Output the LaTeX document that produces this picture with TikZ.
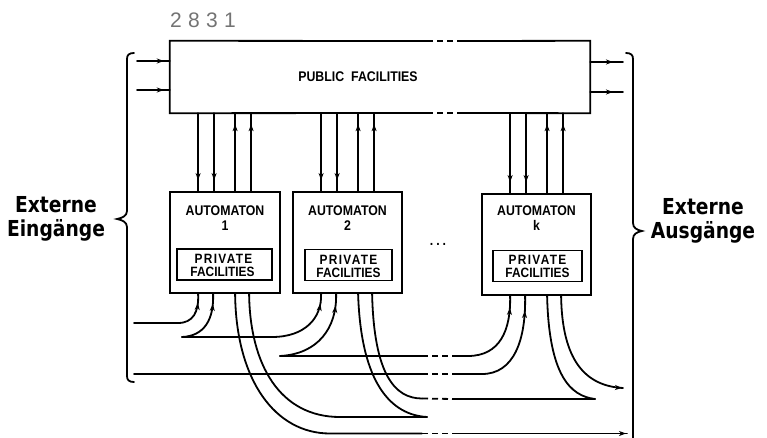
\documentclass[tikz,border=0pt]{standalone}
\usepackage{fontspec}
\setmainfont{Liberation Sans}
\newfontfamily\lblfont[FakeStretch=0.85]{DejaVu Sans}
\newfontfamily\numfont[LetterSpace=30]{Liberation Sans}
\newfontfamily\boxfont[FakeStretch=0.88]{Liberation Sans}
\newfontfamily\spfont[FakeStretch=0.88,LetterSpace=10]{Liberation Sans}
\usetikzlibrary{arrows.meta,decorations.markings,calc}
\definecolor{numgray}{gray}{0.45}
\tikzset{
  ln/.style={line width=1.8pt, line cap=round},
  tipat/.style={postaction={decorate},decoration={markings,mark=at position #1 with {\arrow{Stealth[length=7pt,width=5pt,inset=2pt]}}}},
  gapdash/.style={line width=1.8pt, dash pattern=on 6pt off 4pt},
  box/.style={draw, line width=1.8pt, inner sep=0pt},
  txt/.style={font=\boxfont\bfseries\fontsize{14}{14}\selectfont, inner sep=0pt, anchor=base},
  ptxt/.style={font=\boxfont\bfseries\fontsize{13.5}{13.5}\selectfont, inner sep=0pt, anchor=base},
  sptxt/.style={font=\spfont\bfseries\fontsize{13.5}{13.5}\selectfont, inner sep=0pt, anchor=base},
  lbl/.style={font=\lblfont\bfseries\fontsize{22}{24}\selectfont, align=center, inner sep=0pt},
}
\begin{document}
\begin{tikzpicture}[x=1pt,y=-1pt]
\useasboundingbox (0,0) rectangle (767,438);

% number
\node[font=\numfont\fontsize{21}{21}\selectfont, text=numgray, anchor=base west, inner sep=0pt] (num) at (170,28) {2831};

% public facilities
\node[minimum width=420pt, minimum height=72pt, inner sep=0pt] (pf) at (380,77) {};
\node[txt, anchor=center] (pft) at (358,77) {PUBLIC\hspace{0.5em}FACILITIES};
\draw[ln] (427,41) -- (pf.north west) -- (pf.south west) -- (427,113);
\draw[ln] (458,41) -- (pf.north east) -- (pf.south east) -- (458,113);
\draw[gapdash] (427,41) -- (458,41);
\draw[gapdash] (427,113) -- (458,113);

% automata
\node[box, minimum width=110pt, minimum height=101pt] (a1) at (225,242.5) {};
\node[box, minimum width=109pt, minimum height=101pt] (a2) at (347.5,242.5) {};
\node[box, minimum width=109pt, minimum height=101pt] (ak) at (536.5,244.5) {};
\node[box, minimum width=95pt, minimum height=31pt] (p1) at (224.5,264.5) {};
\node[box, minimum width=87pt, minimum height=31pt] (p2) at (348.5,265) {};
\node[box, minimum width=89pt, minimum height=31pt] (pk) at (537.5,266) {};

\node[txt] (t1a) at (225,215) {AUTOMATON};
\node[txt] (t1b) at (225,230) {1};
\node[txt] (t2a) at (347.5,215) {AUTOMATON};
\node[txt] (t2b) at (347.5,230) {2};
\node[txt] (tka) at (536.5,215.5) {AUTOMATON};
\node[txt] (tkb) at (536.5,230.5) {k};
\node[sptxt] (q1a) at (223.5,263.5) {PRIVATE};
\node[ptxt] (q1b) at (222.5,276.5) {FACILITIES};
\node[sptxt] (q2a) at (348.5,264) {PRIVATE};
\node[ptxt] (q2b) at (348.5,277) {FACILITIES};
\node[sptxt] (qka) at (537.5,264.5) {PRIVATE};
\node[ptxt] (qkb) at (537.5,277.5) {FACILITIES};

\node[txt, anchor=center] (dots) at (438,244) {.\hspace{3pt}.\hspace{3pt}.};

% labels
\node[lbl] (ein) at (56,219) {Externe\\Eingänge};
\node[lbl] (aus) at (703,221) {Externe\\Ausgänge};

% attachment points
\foreach \b in {a1,a2,ak}{
  \foreach \o [count=\i] in {29,45,66,82}{
    \coordinate (\b t\i) at ($(\b.north west)+(\o,0)$);
  }
  \foreach \o [count=\i] in {29,44,66,80}{
    \coordinate (\b b\i) at ($(\b.south west)+(\o,0)$);
  }
}

% vertical connectors
\foreach \b in {a1,a2,ak}{
  \draw[ln,tipat=-11pt] (pf.south -| \b t1) -- (\b t1);
  \draw[ln,tipat=-11pt] (pf.south -| \b t2) -- (\b t2);
  \draw[ln,tipat=-11pt] (\b t3) -- (pf.south -| \b t3);
  \draw[ln,tipat=-11pt] (\b t4) -- (pf.south -| \b t4);
}

% external inputs / outputs at top
\coordinate (i1) at (137,61);
\coordinate (i2) at (137,90);
\coordinate (o1) at (623,62);
\coordinate (o2) at (623,92);
\draw[ln,tipat=-6pt] (i1) -- (pf.west |- i1);
\draw[ln,tipat=-6pt] (i2) -- (pf.west |- i2);
\draw[ln,tipat=-10pt] (pf.east |- o1) -- (o1);
\draw[ln,tipat=-10pt] (pf.east |- o2) -- (o2);

% brackets
\draw[ln] (134,53) .. controls (129,53) and (127,55) .. (127,59) -- (127,211)
  .. controls (127,216) and (122,218) .. (117,219)
  .. controls (122,220) and (127,222) .. (127,227) -- (127,376)
  .. controls (127,380) and (129,382) .. (134,382);
\draw[ln] (626,53) .. controls (631,53) and (633,55) .. (633,59) -- (633,223)
  .. controls (633,228) and (637,230) .. (642,231)
  .. controls (637,232) and (633,234) .. (633,239) -- (633,438);

% lower connections
\coordinate (c1) at (182,337);
\coordinate (c2) at (280,356);
\coordinate (c3) at (427,417);
\coordinate (c4) at (595,399);
\coordinate (inA) at (134,323);
\coordinate (inB) at (134,374);
\coordinate (outA) at (627,433.5);
\coordinate (outB) at (623,388);

\draw[ln,tipat=-9pt] (inA) -- (178,323) .. controls (193,323) and (199,312) .. (a1b1);
\draw[ln,tipat=-10pt] (c1) .. controls (204,336) and (214,320) .. (a1b2);
\draw[ln,tipat=-10pt] (c1) -- (272,337) .. controls (305,337) and (322,318) .. (a2b1);

\draw[ln,tipat=-12pt] (c2) .. controls (318,354) and (337,328) .. (a2b2);
\draw[ln] (c2) -- (422,356);
\draw[gapdash] (422,356) -- (453,356);
\draw[ln,tipat=-12pt] (453,356) -- (468,356) .. controls (500,356) and (511,330) .. (akb1);

\draw[ln] (inB) -- (422,374);
\draw[gapdash] (422,374) -- (453,374);
\draw[ln,tipat=-15pt] (453,374) -- (482,374) .. controls (514,374) and (526,340) .. (akb2);

\draw[ln] (a1b3) .. controls (236,380) and (275,433.5) .. (330,433.5) -- (422,433.5);
\draw[gapdash] (422,433.5) -- (453,433.5);
\draw[ln,tipat=-1pt] (453,433.5) -- (outA);

\draw[ln] (a1b4) .. controls (250,365) and (280,417) .. (340,417) -- (c3);
\draw[ln] (a2b3) .. controls (361,385) and (392,415) .. (c3);

\draw[ln] (a2b4) .. controls (374,375) and (395,398.5) .. (422,398.5);
\draw[gapdash] (422,398.5) -- (453,399);
\draw[ln] (453,399) -- (c4);
\draw[ln] (akb3) .. controls (549,375) and (570,396) .. (c4);

\draw[ln,tipat=-1pt] (akb4) .. controls (562,360) and (585,386) .. (outB);
\end{tikzpicture}
\end{document}
